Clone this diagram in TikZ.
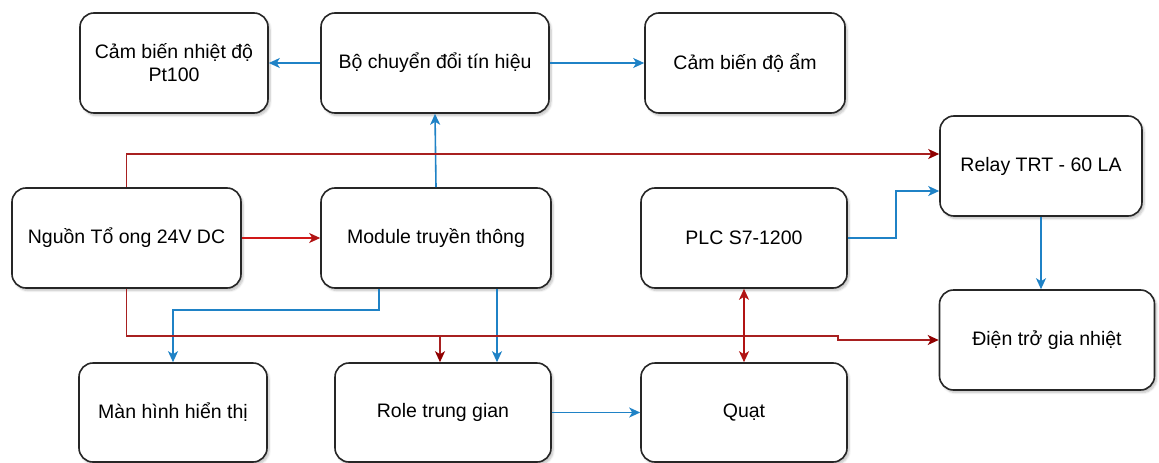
\documentclass[tikz,border=0pt]{standalone}
\usepackage{fontspec}
\setmainfont{Liberation Sans}
\usetikzlibrary{arrows.meta,shadows.blur,calc}
\definecolor{lnblue}{HTML}{1F82C6}
\definecolor{lnred}{HTML}{A82020}
\definecolor{tipred}{HTML}{900000}
\definecolor{brred}{HTML}{D01818}
\tikzset{
  box/.style={draw=black!85, line width=1.6pt, rounded corners=14pt, fill=white,
    align=center, inner sep=2pt,
    font=\fontsize{19.5}{23}\selectfont,
    blur shadow={shadow xshift=2pt, shadow yshift=-2.5pt, shadow blur steps=6, shadow opacity=25}},
  bl/.style={draw=lnblue, line width=1.6pt, -{Stealth[length=11pt,width=10pt,inset=3pt]}},
  rd/.style={draw=lnred, line width=1.6pt, -{Stealth[length=11pt,width=10pt,inset=3pt,color=tipred]}},
  rdb/.style={draw=brred, line width=1.6pt, -{Stealth[length=11pt,width=10pt,inset=3pt,color=brred!85!black]}},
  rdd/.style={draw=brred!85!black, line width=1.6pt, {Stealth[length=11pt,width=10pt,inset=3pt]}-{Stealth[length=11pt,width=10pt,inset=3pt]}},
}
\begin{document}
\begin{tikzpicture}[x=1pt,y=-1pt]
\useasboundingbox (0,0) rectangle (1159,463);
% nodes
\node[box, minimum width=188pt, minimum height=100pt] (pt) at (174,63) {Cảm biến nhiệt độ\\Pt100};
\node[box, minimum width=228pt, minimum height=100pt] (bo) at (435,63) {Bộ chuyển đổi tín hiệu};
\node[box, minimum width=200pt, minimum height=100pt] (am) at (745,63) {Cảm biến độ ẩm};
\node[box, minimum width=229pt, minimum height=100pt] (ng) at (126.5,238) {Nguồn Tổ ong 24V DC};
\node[box, minimum width=230pt, minimum height=100pt] (mod) at (436,238) {Module truyền thông};
\node[box, minimum width=206pt, minimum height=100pt] (plc) at (744,238) {PLC S7-1200};
\node[box, minimum width=202pt, minimum height=100pt] (relay) at (1041,166) {Relay TRT - 60 LA};
\node[box, minimum width=215pt, minimum height=100pt] (dien) at (1047,340) {Điện trở gia nhiệt};
\node[box, minimum width=188pt, minimum height=99pt] (man) at (173,412.5) {Màn hình hiển thị};
\node[box, minimum width=216pt, minimum height=99pt] (role) at (443,412.5) {Role trung gian};
\node[box, minimum width=206pt, minimum height=99pt] (quat) at (744,412.5) {Quạt};
% blue connectors
\draw[bl] (bo.west) -- (pt.east);
\draw[bl] (bo.east) -- (am.west);
\draw[bl] (mod.north) -- (bo.south);
\draw[bl] ([xshift=-57pt]mod.south) -- ++(0,21) -| (man.north);
\draw[bl] ([xshift=61pt]mod.south) -- ([xshift=54pt]role.north);
\draw[bl] (role.east) -- (quat.west);
\draw[bl] (plc.east) -- ++(48,0) |- ([yshift=-25pt]relay.west);
\draw[bl] (relay.south) -- (relay.south |- dien.north);
% red connectors
\draw[rd] (ng.north) |- ([yshift=12pt]relay.west);
\draw[rdb] (ng.east) -- (mod.west);
\draw[rd] (ng.south) -- (126.5,336) -- (838,336) -- (838,340) -- (dien.west);
\draw[rd] (440,336) -- ([xshift=-3pt]role.north);
\draw[rdd] (plc.south) -- (quat.north);
\end{tikzpicture}
\end{document}
